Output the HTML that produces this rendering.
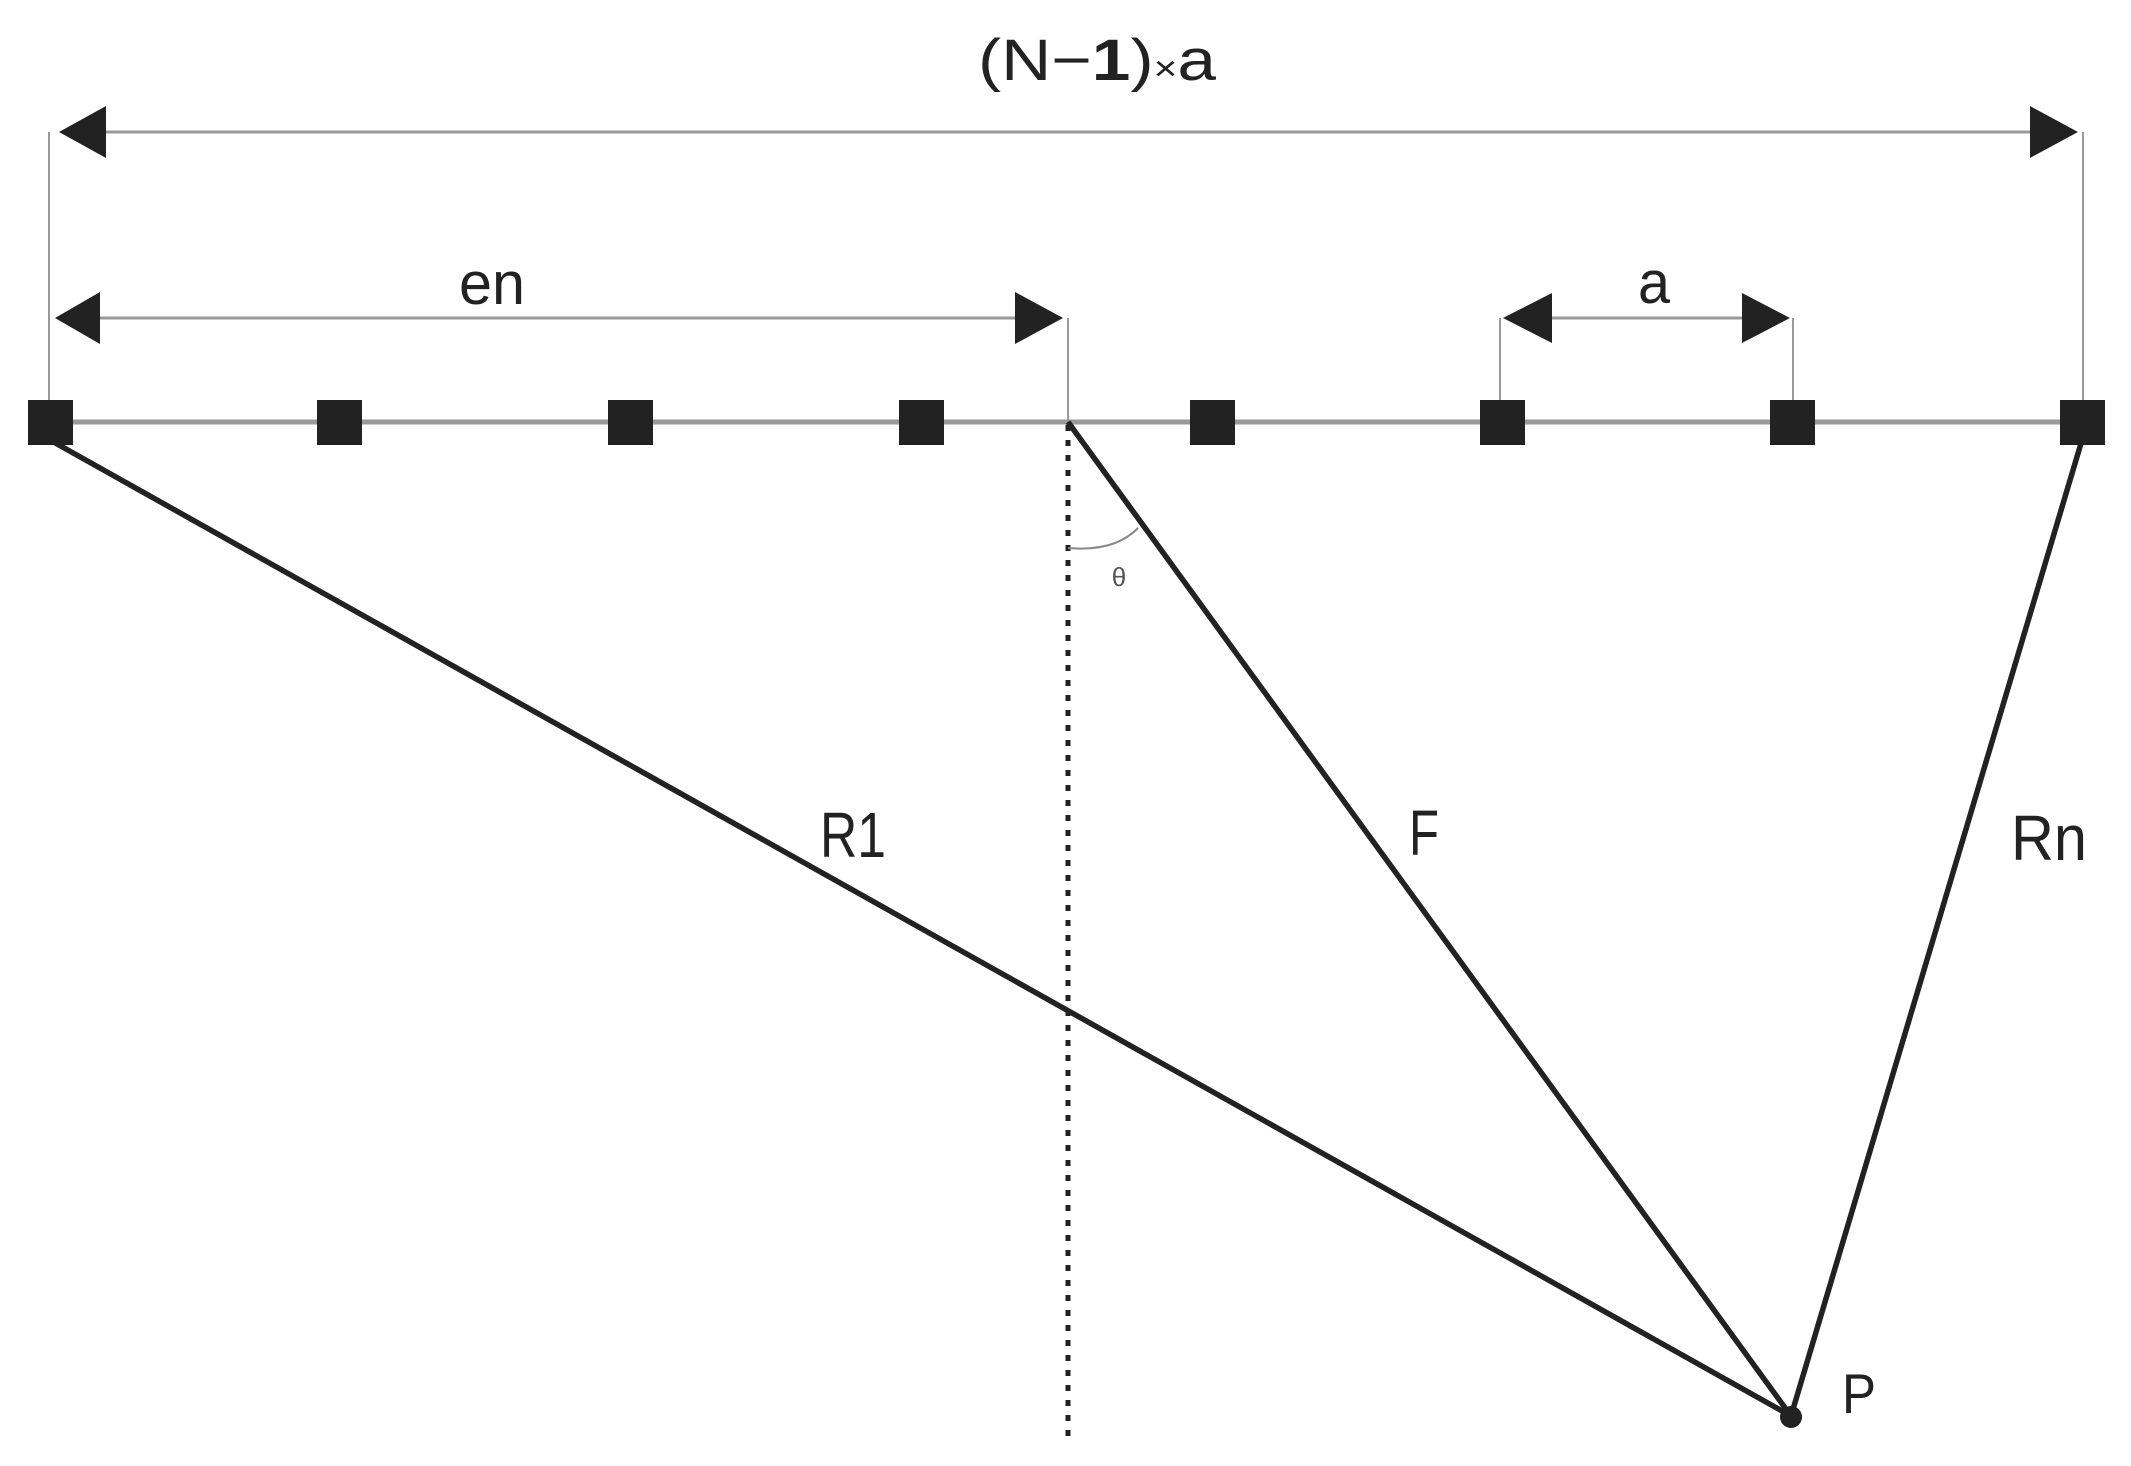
<!DOCTYPE html>
<html><head><meta charset="utf-8"><style>html,body{margin:0;padding:0;background:#fff}svg{display:block}</style></head>
<body>
<svg width="2131" height="1466" viewBox="0 0 2131 1466" xmlns="http://www.w3.org/2000/svg" font-family="Liberation Sans, sans-serif" fill="#222">
<!-- top dimension -->
<line x1="49" y1="132" x2="49" y2="420" stroke="#999" stroke-width="2"/>
<line x1="2083" y1="132" x2="2083" y2="420" stroke="#999" stroke-width="2"/>
<line x1="100" y1="132" x2="2035" y2="132" stroke="#999" stroke-width="3"/>
<polygon points="59,132 106,106 106,158" fill="#222"/>
<polygon points="2078,132 2030,106 2030,158" fill="#222"/>
<text x="978" y="80" font-size="58" textLength="238" lengthAdjust="spacingAndGlyphs">(N−<tspan font-weight="bold">1</tspan>)<tspan font-size="34">×</tspan>a</text>
<!-- en dimension -->
<line x1="1068" y1="318" x2="1068" y2="420" stroke="#999" stroke-width="2"/>
<line x1="100" y1="318" x2="1020" y2="318" stroke="#999" stroke-width="3"/>
<polygon points="55,318 100,292 100,344" fill="#222"/>
<polygon points="1063,318 1015,292 1015,344" fill="#222"/>
<text x="459" y="304" font-size="60" textLength="66" lengthAdjust="spacingAndGlyphs">en</text>
<!-- a dimension -->
<line x1="1500" y1="318" x2="1500" y2="420" stroke="#999" stroke-width="2"/>
<line x1="1793" y1="318" x2="1793" y2="420" stroke="#999" stroke-width="2"/>
<line x1="1545" y1="318" x2="1750" y2="318" stroke="#999" stroke-width="3"/>
<polygon points="1503,318 1552,293 1552,343" fill="#222"/>
<polygon points="1790,318 1742,293 1742,343" fill="#222"/>
<text x="1638" y="303" font-size="60" textLength="32" lengthAdjust="spacingAndGlyphs">a</text>
<!-- array axis -->
<line x1="50" y1="422" x2="2082" y2="422" stroke="#999" stroke-width="5"/>
<g fill="#222">
<rect x="28" y="400" width="45" height="45"/>
<rect x="317" y="400" width="45" height="45"/>
<rect x="608" y="400" width="45" height="45"/>
<rect x="899" y="400" width="45" height="45"/>
<rect x="1190" y="400" width="45" height="45"/>
<rect x="1480" y="400" width="45" height="45"/>
<rect x="1770" y="400" width="45" height="45"/>
<rect x="2060" y="400" width="45" height="45"/>
</g>
<!-- dotted normal -->
<line x1="1068" y1="425" x2="1068" y2="1440" stroke="#222" stroke-width="5" stroke-dasharray="6,9"/>
<!-- rays -->
<g stroke="#222" stroke-width="5.5" fill="none">
<line x1="50" y1="440" x2="1791" y2="1416"/>
<line x1="1068" y1="422" x2="1791" y2="1416"/>
<line x1="2082" y1="440" x2="1791" y2="1416"/>
</g>
<circle cx="1791" cy="1417" r="11" fill="#222"/>
<!-- angle arc -->
<path d="M1068,548 Q1115,552 1138,528" stroke="#888" stroke-width="2" fill="none"/>
<text x="1119" y="586" font-size="26" text-anchor="middle" fill="#555">θ</text>
<!-- labels -->
<text x="820" y="857" font-size="64" textLength="66" lengthAdjust="spacingAndGlyphs">R1</text>
<text x="1409" y="855" font-size="64" textLength="30" lengthAdjust="spacingAndGlyphs">F</text>
<text x="2011" y="860" font-size="64" textLength="76" lengthAdjust="spacingAndGlyphs">Rn</text>
<text x="1842" y="1413" font-size="56" textLength="34" lengthAdjust="spacingAndGlyphs">P</text>
</svg>
</body></html>
